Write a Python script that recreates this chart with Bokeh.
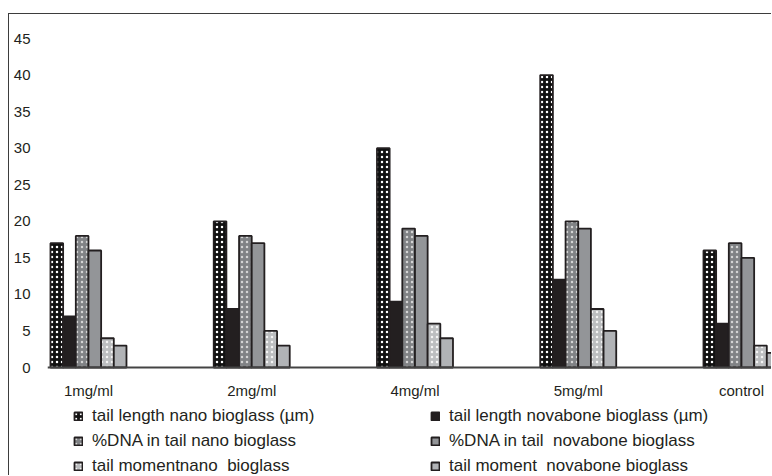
from bokeh.plotting import figure
from bokeh.models import Range1d, FixedTicker, Legend, LegendItem, ColumnDataSource
from bokeh.transform import dodge
from bokeh.embed import file_html
from bokeh.resources import INLINE

# ---- data ----
categories = ["1mg/ml", "2mg/ml", "4mg/ml", "5mg/ml", "control"]
tail_length_nano = [17, 20, 30, 40, 16]
tail_length_novabone = [7, 8, 9, 12, 6]
dna_nano = [18, 18, 19, 20, 17]
dna_novabone = [16, 17, 18, 19, 15]
moment_nano = [4, 5, 6, 8, 3]
moment_novabone = [3, 3, 4, 5, 2]
series_labels = [
    "tail length nano bioglass (µm)",
    "tail length novabone bioglass (µm)",
    "%DNA in tail nano bioglass",
    "%DNA in tail  novabone bioglass",
    "tail momentnano  bioglass",
    "tail moment  novabone bioglass",
]
y_ticks = [0, 5, 10, 15, 20, 25, 30, 35, 40, 45]

series_values = [tail_length_nano, tail_length_novabone, dna_nano,
                 dna_novabone, moment_nano, moment_novabone]

# ---- styles ----
fills = ["#111111", "#231f20", "#808285", "#939598", "#bcbec0", "#b1b3b6"]
hatches = [".", None, ".", None, ".", None]
hatch_colors = ["#ffffff", None, "#d4d4d4", None, "#f4f4f4", None]
FONT = "Liberation Sans"
TXT = "#231f20"

PX_PER_UNIT = 7.311
y_lo = -(476 - 367) / PX_PER_UNIT
y_hi = (367 - 20) / PX_PER_UNIT

p = figure(width=763, height=462, output_backend="svg", toolbar_location=None,
           x_range=Range1d(-0.251, 4.19), y_range=Range1d(y_lo, y_hi),
           min_border_left=38, min_border_right=0, min_border_top=6,
           min_border_bottom=0)
p.styles = {"border-left": "1px solid #3d3d3d", "border-top": "1px solid #3d3d3d",
            "margin-top": "13px", "margin-left": "8px"}
p.outline_line_color = None
p.grid.visible = False
p.background_fill_color = "white"
p.border_fill_color = "white"

src = ColumnDataSource(dict(x=list(range(len(categories))),
                            **{f"s{k}": v for k, v in enumerate(series_values)}))

bar_w = 0.0776
renderers = []
for k in range(6):
    off = (k - 2.5) * bar_w
    kw = dict(fill_color=fills[k], line_color="#231f20", line_width=1.8)
    if hatches[k]:
        kw.update(hatch_pattern=hatches[k], hatch_color=hatch_colors[k],
                  hatch_scale=5, hatch_weight=0.9)
    r = p.vbar(x=dodge("x", off, range=p.x_range), top=f"s{k}", bottom=0,
               width=bar_w, source=src, **kw)
    renderers.append(r)

# x axis drawn at y = 0 inside the frame
xa = p.xaxis[0]
xa.fixed_location = 0
xa.ticker = FixedTicker(ticks=list(range(len(categories))))
xa.major_label_overrides = {i: c for i, c in enumerate(categories)}
xa.axis_line_color = "#444444"
xa.axis_line_width = 2
xa.major_tick_line_color = None
xa.major_tick_out = 0
xa.major_tick_in = 0
xa.minor_tick_line_color = None
xa.major_label_standoff = 14
xa.major_label_text_font = FONT
xa.major_label_text_font_size = "15px"
xa.major_label_text_color = TXT

# y axis
ya = p.yaxis[0]
ya.ticker = FixedTicker(ticks=y_ticks)
ya.axis_line_color = None
ya.major_tick_line_color = None
ya.major_tick_out = 0
ya.major_tick_in = 0
ya.minor_tick_line_color = None
ya.major_label_standoff = 17
ya.major_label_text_font = FONT
ya.major_label_text_font_size = "15px"
ya.major_label_text_color = TXT

items = [LegendItem(label=series_labels[k], renderers=[renderers[k]]) for k in range(6)]
legend = Legend(items=items, location=(26, 0), orientation="horizontal", ncols=2,
                glyph_width=10, glyph_height=10, label_standoff=9,
                label_width=333, label_height=20, spacing=5, padding=0, margin=0,
                border_line_color=None, background_fill_alpha=0,
                label_text_font=FONT, label_text_font_size="17px",
                label_text_color=TXT)
p.add_layout(legend, "center")

open("out.html", "w").write(file_html(p, INLINE))
